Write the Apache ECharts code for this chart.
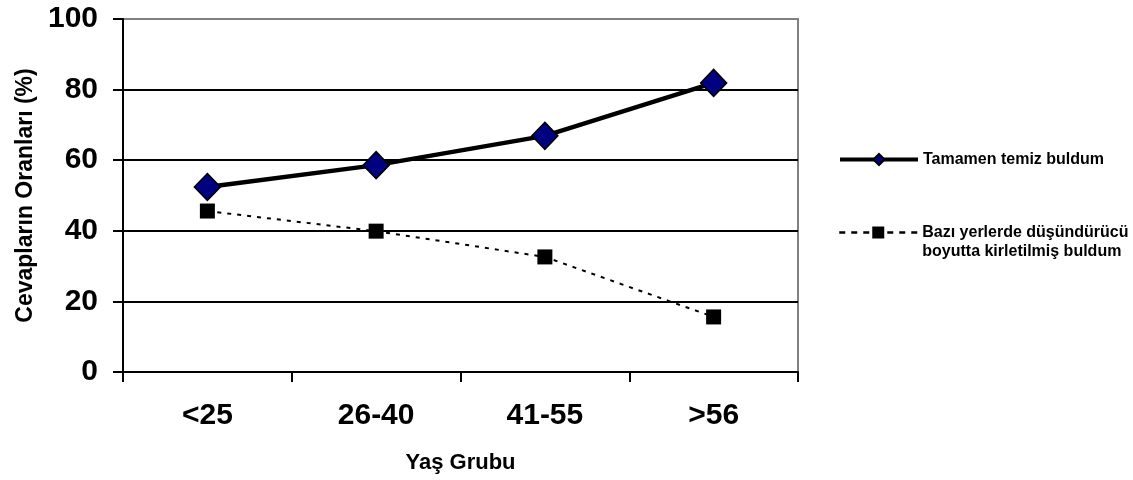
<!DOCTYPE html>
<html>
<head>
<meta charset="utf-8">
<script src="https://cdn.jsdelivr.net/npm/echarts@6/dist/echarts.min.js"></script>
<style>
html,body{margin:0;padding:0;background:#fff;}
#chart{width:1133px;height:480px;}
</style>
</head>
<body>
<div id="chart"></div>
<script>
const categories = ['<25', '26-40', '41-55', '>56'];
const seriesNames = ['Tamamen temiz buldum', 'Bazı yerlerde düşündürücü\nboyutta kirletilmiş buldum'];
const tamamenTemiz = [52.4, 58.6, 66.9, 81.9];
const baziYerlerde = [45.6, 39.9, 32.6, 15.6];
const yTicks = [0, 20, 40, 60, 80, 100];

const FONT = '"Liberation Sans", Arial, sans-serif';
const chart = echarts.init(document.getElementById('chart'), null, {renderer: 'canvas'});
chart.setOption({
  backgroundColor: '#ffffff',
  animation: false,
  grid: {left: 123, top: 19, right: 335, bottom: 108, show: true, borderColor: '#808080', borderWidth: 2, backgroundColor: 'transparent'},
  legend: [
    {
      data: [seriesNames[0]], left: 838, top: 150, orient: 'vertical', padding: 0,
      itemWidth: 78, itemHeight: 14, itemGap: 5,
      lineStyle: {color: '#000', width: 4},
      textStyle: {fontFamily: FONT, fontWeight: 'bold', fontSize: 16, color: '#000', lineHeight: 19}
    },
    {
      data: [seriesNames[1]], left: 838, top: 204, orient: 'vertical', padding: 0,
      itemWidth: 78, itemHeight: 15, itemGap: 5,
      lineStyle: {color: '#000', width: 2.5, type: [6, 6]},
      formatter: function (name) { return '\n' + name; },
      textStyle: {fontFamily: FONT, fontWeight: 'bold', fontSize: 16, color: '#000', lineHeight: 19}
    }
  ],
  xAxis: {
    type: 'category', data: categories, boundaryGap: true,
    name: 'Yaş Grubu', nameLocation: 'middle', nameGap: 80,
    nameTextStyle: {fontFamily: FONT, fontWeight: 'bold', fontSize: 22, color: '#000'},
    axisLine: {lineStyle: {color: '#000', width: 2}},
    axisTick: {show: true, length: 10, lineStyle: {color: '#000', width: 2}},
    axisLabel: {fontFamily: FONT, fontWeight: 'bold', fontSize: 30, color: '#000', margin: 29}
  },
  yAxis: {
    type: 'value', min: yTicks[0], max: yTicks[yTicks.length - 1], interval: 20,
    name: 'Cevapların Oranları (%)', nameLocation: 'middle', nameGap: 86, nameRotate: 90,
    nameTextStyle: {fontFamily: FONT, fontWeight: 'bold', fontSize: 23, color: '#000'},
    axisLine: {show: true, lineStyle: {color: '#000', width: 2}},
    axisTick: {show: true, length: 10, lineStyle: {color: '#000', width: 2}},
    splitLine: {show: true, lineStyle: {color: ['#000', '#000', '#000', '#000', '#000', '#808080'], width: 2}},
    axisLabel: {fontFamily: FONT, fontWeight: 'bold', fontSize: 30, color: '#000', margin: 25}
  },
  series: [
    {
      name: seriesNames[0], type: 'line', data: tamamenTemiz,
      symbol: 'diamond', symbolSize: [26, 27],
      lineStyle: {color: '#000', width: 4.5},
      itemStyle: {color: '#000080', borderColor: '#000', borderWidth: 1.5},
      z: 3
    },
    {
      name: seriesNames[1], type: 'line', data: baziYerlerde,
      symbol: 'rect', symbolSize: [15, 15],
      lineStyle: {color: '#000', width: 2, type: [4, 6]},
      itemStyle: {color: '#000', borderColor: '#000', borderWidth: 0},
      z: 2
    }
  ]
});
</script>
</body>
</html>
